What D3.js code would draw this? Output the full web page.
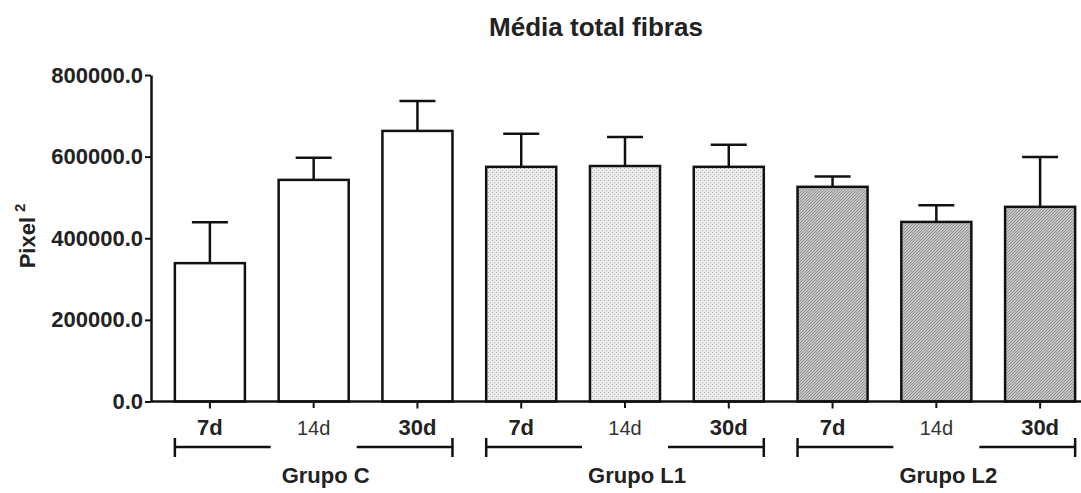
<!DOCTYPE html>
<html>
<head>
<meta charset="utf-8">
<script src="https://cdn.jsdelivr.net/npm/d3@7"></script>
<style>
    body { margin: 0; background: #fff; }
    svg { font-family: "Liberation Sans", Arial, sans-serif; }
</style>
</head>
<body>
<div id="chart"></div>
<script>
var width = 1081;
var height = 493;

// data
var groups = ["Grupo C", "Grupo L1", "Grupo L2"];
var days = ["7d", "14d", "30d"];
var means = [339000, 543000, 663000, 575000, 577000, 575000, 526000, 440000, 477000];
var errors = [100000, 54000, 73000, 81000, 71000, 54000, 25000, 41000, 122000];
var yTicks = [0, 200000, 400000, 600000, 800000];

var bars = [];
groups.forEach(function(g, gi) {
    days.forEach(function(d, di) {
        var i = gi * days.length + di;
        bars.push({key: g + "|" + d, group: g, gi: gi, day: d, mean: means[i], err: errors[i]});
    });
});

var m = {left: 151, top: 75, bottom: 401.5};

var svg = d3.select("#chart").append("svg")
    .attr("width", width)
    .attr("height", height);

var defs = svg.append("defs");

// light dotted fill for L1
var p1 = defs.append("pattern")
    .attr("id", "dots")
    .attr("width", 4).attr("height", 4)
    .attr("patternUnits", "userSpaceOnUse");
p1.append("rect").attr("width", 4).attr("height", 4).attr("fill", "#e9e9e9");
p1.append("rect").attr("x", 0).attr("y", 0).attr("width", 1).attr("height", 1).attr("fill", "#b0b0b0");
p1.append("rect").attr("x", 2).attr("y", 2).attr("width", 1).attr("height", 1).attr("fill", "#c4c4c4");

// darker hatch for L2
var p2 = defs.append("pattern")
    .attr("id", "hatch")
    .attr("width", 3).attr("height", 3)
    .attr("patternUnits", "userSpaceOnUse");
p2.append("rect").attr("width", 3).attr("height", 3).attr("fill", "#c2c2c2");
p2.append("path").attr("d", "M0,3 L3,0").attr("stroke", "#909090").attr("stroke-width", 0.9);

var fills = ["#fff", "url(#dots)", "url(#hatch)"];

var x = d3.scaleBand()
    .domain(bars.map(function(d) { return d.key; }))
    .range([158, 1092])
    .paddingInner(0.325)
    .paddingOuter(0.1625);

var y = d3.scaleLinear()
    .domain([0, 800000])
    .range([m.bottom, m.top]);

// title
svg.append("text")
    .attr("x", 596)
    .attr("y", 36)
    .attr("text-anchor", "middle")
    .style("font-size", "26px")
    .style("font-weight", "bold")
    .style("fill", "#222")
    .text("Média total fibras");

// y label
var yl = svg.append("text")
    .attr("transform", "translate(35,236) rotate(-90)")
    .attr("text-anchor", "middle")
    .style("font-size", "22px")
    .style("font-weight", "bold")
    .style("fill", "#222");
yl.append("tspan").text("Pixel");
yl.append("tspan").attr("dy", -10).attr("dx", 5).style("font-size", "15px").text("2");

// y axis
var yAxis = svg.append("g")
    .attr("transform", "translate(" + m.left + ",0)")
    .call(d3.axisLeft(y).tickValues(yTicks).tickSize(6).tickSizeOuter(0)
        .tickFormat(function(d) { return d3.format(".1f")(d); }));
yAxis.select(".domain").attr("stroke", "#111").attr("stroke-width", 2.5);
yAxis.selectAll(".tick line").attr("stroke", "#111").attr("stroke-width", 2);
yAxis.selectAll(".tick text")
    .attr("x", -8)
    .style("font-size", "22px")
    .style("font-weight", "bold")
    .style("font-family", "'Liberation Sans', Arial, sans-serif")
    .style("fill", "#222");

// error bars
var eb = svg.append("g").selectAll("g")
    .data(bars)
    .enter().append("g");
eb.append("line")
    .attr("x1", function(d) { return x(d.key) + x.bandwidth() / 2; })
    .attr("x2", function(d) { return x(d.key) + x.bandwidth() / 2; })
    .attr("y1", function(d) { return y(d.mean); })
    .attr("y2", function(d) { return y(d.mean + d.err); })
    .attr("stroke", "#111").attr("stroke-width", 2.5);
eb.append("line")
    .attr("x1", function(d) { return x(d.key) + x.bandwidth() / 2 - 18; })
    .attr("x2", function(d) { return x(d.key) + x.bandwidth() / 2 + 18; })
    .attr("y1", function(d) { return y(d.mean + d.err); })
    .attr("y2", function(d) { return y(d.mean + d.err); })
    .attr("stroke", "#111").attr("stroke-width", 2.5);

// bars
svg.append("g").selectAll("rect")
    .data(bars)
    .enter().append("rect")
    .attr("x", function(d) { return x(d.key); })
    .attr("y", function(d) { return y(d.mean); })
    .attr("width", x.bandwidth())
    .attr("height", function(d) { return y(0) - y(d.mean); })
    .attr("fill", function(d) { return fills[d.gi]; })
    .attr("stroke", "#111")
    .attr("stroke-width", 2.5);

// x axis
var xAxis = svg.append("g")
    .attr("transform", "translate(0," + m.bottom + ")")
    .call(d3.axisBottom(x).tickSize(7).tickSizeOuter(0).tickFormat(""));
xAxis.select(".domain").attr("d", "M" + m.left + ",0H" + width).attr("stroke", "#111").attr("stroke-width", 2.5);
xAxis.selectAll(".tick line").attr("stroke", "#111").attr("stroke-width", 2);

// group brackets
var gb = svg.append("g").selectAll("g")
    .data(groups)
    .enter().append("g");
function gx0(gi) { return x(bars[gi * 3].key); }
function gx1(gi) { return x(bars[gi * 3 + 2].key) + x.bandwidth(); }
gb.append("line")
    .attr("x1", function(d, i) { return gx0(i); })
    .attr("x2", function(d, i) { return gx1(i); })
    .attr("y1", 447).attr("y2", 447)
    .attr("stroke", "#111").attr("stroke-width", 2.5);
gb.append("line")
    .attr("x1", function(d, i) { return gx0(i); })
    .attr("x2", function(d, i) { return gx0(i); })
    .attr("y1", 438).attr("y2", 457)
    .attr("stroke", "#111").attr("stroke-width", 2.5);
gb.append("line")
    .attr("x1", function(d, i) { return gx1(i); })
    .attr("x2", function(d, i) { return gx1(i); })
    .attr("y1", 438).attr("y2", 457)
    .attr("stroke", "#111").attr("stroke-width", 2.5);
gb.append("text")
    .attr("x", function(d, i) { return (gx0(i) + gx1(i)) / 2 + 12; })
    .attr("y", 483)
    .attr("text-anchor", "middle")
    .style("font-size", "22px")
    .style("font-weight", "bold")
    .style("fill", "#222")
    .text(function(d) { return d; });

// white patches behind the pasted-in middle labels
var mids = bars.filter(function(d) { return d.day === days[1]; });
svg.append("g").selectAll("rect")
    .data(mids)
    .enter().append("rect")
    .attr("x", function(d) { return x(d.key) + x.bandwidth() / 2 - 43; })
    .attr("y", 408)
    .attr("width", 86)
    .attr("height", 44)
    .attr("fill", "#fff");

// day labels
svg.append("g").selectAll("text")
    .data(bars)
    .enter().append("text")
    .attr("x", function(d) { return x(d.key) + x.bandwidth() / 2; })
    .attr("y", 435)
    .attr("text-anchor", "middle")
    .style("font-size", function(d) { return d.day === days[1] ? "20px" : "22px"; })
    .style("font-weight", function(d) { return d.day === days[1] ? "normal" : "bold"; })
    .style("fill", function(d) { return d.day === days[1] ? "#333" : "#222"; })
    .text(function(d) { return d.day; });
</script>
</body>
</html>
